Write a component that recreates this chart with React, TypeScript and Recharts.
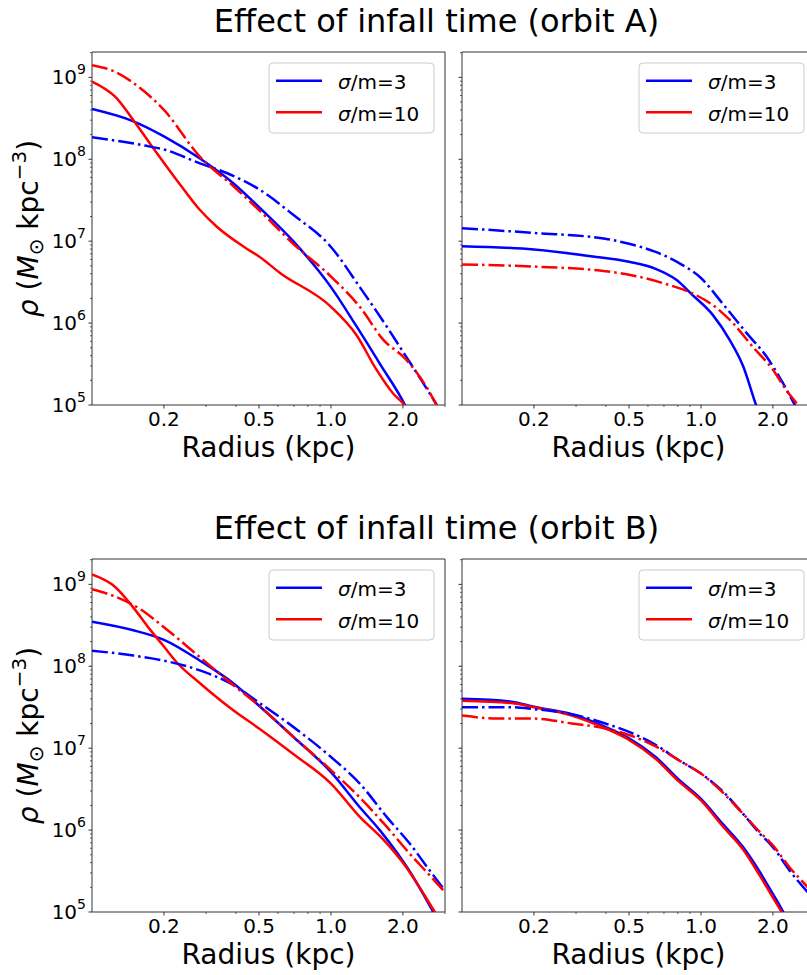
import { Line, LineChart, ReferenceArea, XAxis, YAxis } from "recharts";

type Pair = [number, number];

// radius (kpc), density (M_sun kpc^-3)
// orbit A, left panel
const A_L_SOLID_3: Pair[] = [[0.1, 4.1e8], [0.149, 2.9e8], [0.2, 1.9e8], [0.283, 1.02e8], [0.39, 5.1e7], [0.5, 2.6e7], [0.695, 1.0e7], [1.0, 2.75e6], [1.28, 9.1e5], [1.6, 3.2e5], [2.04, 1.0e5], [2.2, 6.3e4]];
const A_L_DASH_3: Pair[] = [[0.1, 1.86e8], [0.164, 1.48e8], [0.205, 1.29e8], [0.283, 8.9e7], [0.366, 6.8e7], [0.5, 4.3e7], [0.695, 2.1e7], [1.0, 8.5e6], [1.32, 2.75e6], [1.71, 9.1e5], [2.04, 4.1e5], [2.59, 1.38e5], [2.77, 1.0e5], [3.0, 6.3e4]];
const A_L_SOLID_10: Pair[] = [[0.1, 8.9e8], [0.125, 5.8e8], [0.149, 3.0e8], [0.175, 1.55e8], [0.226, 5.6e7], [0.283, 2.4e7], [0.333, 1.5e7], [0.444, 8.1e6], [0.5, 6.5e6], [0.612, 4.1e6], [1.0, 1.58e6], [1.28, 7.1e5], [1.55, 2.7e5], [1.82, 1.38e5], [2.0, 1.05e5], [2.2, 7e4]];
const A_L_DASH_10: Pair[] = [[0.1, 1.41e9], [0.125, 1.17e9], [0.159, 7.4e8], [0.2, 4.0e8], [0.283, 1.07e8], [0.39, 4.7e7], [0.5, 2.4e7], [0.695, 9.3e6], [1.0, 3.7e6], [1.32, 1.58e6], [1.66, 6.2e5], [2.04, 3.7e5], [2.51, 1.66e5], [2.77, 1.0e5], [3.0, 7e4]];

// orbit A, right panel
const A_R_SOLID_3: Pair[] = [[0.1, 8.7e6], [0.2, 7.9e6], [0.339, 6.6e6], [0.5, 5.6e6], [0.646, 4.6e6], [0.786, 3.4e6], [0.922, 2.2e6], [1.12, 1.26e6], [1.32, 6.2e5], [1.5, 3.0e5], [1.7, 1.0e5], [1.8, 6.3e4]];
const A_R_DASH_3: Pair[] = [[0.1, 1.44e7], [0.2, 1.26e7], [0.398, 1.07e7], [0.5, 9.3e6], [0.646, 7.4e6], [0.81, 5.4e6], [1.0, 3.55e6], [1.23, 1.74e6], [1.55, 7.6e5], [1.88, 3.9e5], [2.21, 1.82e5], [2.47, 1.0e5], [2.8, 5e4]];
const A_R_DASH_10: Pair[] = [[0.1, 5.2e6], [0.2, 4.9e6], [0.398, 4.3e6], [0.5, 3.9e6], [0.713, 3.0e6], [0.922, 2.3e6], [1.12, 1.66e6], [1.36, 1.0e6], [1.65, 5.1e5], [2.0, 2.7e5], [2.28, 1.5e5], [2.51, 1.05e5], [2.8, 6.3e4]];

// orbit B, left panel
const B_L_SOLID_3: Pair[] = [[0.1, 3.5e8], [0.149, 2.75e8], [0.2, 2.1e8], [0.283, 1.17e8], [0.39, 6.2e7], [0.5, 3.3e7], [0.695, 1.38e7], [1.0, 5.1e6], [1.32, 1.9e6], [1.6, 1.0e6], [1.88, 5.4e5], [2.14, 3.1e5], [2.43, 1.66e5], [2.68, 1.0e5], [2.9, 7e4]];
const B_L_DASH_3: Pair[] = [[0.1, 1.55e8], [0.149, 1.35e8], [0.2, 1.17e8], [0.283, 8.9e7], [0.39, 5.9e7], [0.5, 3.6e7], [0.695, 1.82e7], [1.0, 7.8e6], [1.32, 3.7e6], [1.71, 1.45e6], [2.14, 6.8e5], [2.59, 3.2e5], [3.0, 1.82e5]];
const B_L_SOLID_10: Pair[] = [[0.1, 1.32e9], [0.125, 9.3e8], [0.149, 5.2e8], [0.175, 2.8e8], [0.2, 1.74e8], [0.226, 1.12e8], [0.283, 6.2e7], [0.39, 2.9e7], [0.5, 1.74e7], [0.695, 8.5e6], [1.0, 3.7e6], [1.32, 1.45e6], [1.66, 7.6e5], [2.04, 3.7e5], [2.35, 2.0e5], [2.72, 1.0e5], [2.9, 7.6e4]];
const B_L_DASH_10: Pair[] = [[0.1, 8.7e8], [0.125, 7.1e8], [0.159, 5.0e8], [0.2, 3.0e8], [0.283, 1.29e8], [0.39, 5.9e7], [0.5, 3.3e7], [0.695, 1.38e7], [1.0, 5.4e6], [1.32, 2.5e6], [1.71, 1.1e6], [2.14, 5.1e5], [2.59, 2.8e5], [3.0, 1.74e5]];

// orbit B, right panel
const B_R_SOLID_3: Pair[] = [[0.1, 4.0e7], [0.161, 3.7e7], [0.2, 3.2e7], [0.288, 2.6e7], [0.398, 1.82e7], [0.5, 1.32e7], [0.646, 7.8e6], [0.81, 4.1e6], [1.0, 2.4e6], [1.23, 1.2e6], [1.5, 6.2e5], [1.76, 3.1e5], [2.0, 1.66e5], [2.21, 1.0e5], [2.4, 6.3e4]];
const B_R_SOLID_10: Pair[] = [[0.1, 3.8e7], [0.161, 3.55e7], [0.2, 3.16e7], [0.288, 2.5e7], [0.398, 1.74e7], [0.5, 1.26e7], [0.646, 7.4e6], [0.81, 3.9e6], [1.0, 2.3e6], [1.23, 1.12e6], [1.5, 5.8e5], [1.76, 2.8e5], [2.0, 1.5e5], [2.2, 9.5e4], [2.4, 6.3e4]];
const B_R_DASH_3: Pair[] = [[0.1, 3.16e7], [0.161, 3.16e7], [0.2, 3.0e7], [0.288, 2.6e7], [0.398, 2.0e7], [0.5, 1.58e7], [0.646, 1.1e7], [0.81, 7.1e6], [1.0, 4.9e6], [1.23, 3.0e6], [1.5, 1.58e6], [1.76, 9.1e5], [2.0, 6.2e5], [2.35, 3.2e5], [2.8, 1.74e5], [3.0, 1.4e5]];
const B_R_DASH_10: Pair[] = [[0.1, 2.5e7], [0.142, 2.3e7], [0.2, 2.3e7], [0.288, 2.0e7], [0.398, 1.74e7], [0.5, 1.45e7], [0.646, 1.05e7], [0.81, 7.1e6], [1.0, 4.9e6], [1.23, 2.9e6], [1.5, 1.58e6], [1.76, 9.5e5], [2.0, 6.5e5], [2.35, 3.5e5], [2.8, 2.0e5], [3.0, 1.6e5]];

const TITLES = ["Effect of infall time (orbit A)", "Effect of infall time (orbit B)"];
const LEGEND_LABELS = ["3", "10"];

const X_MAJOR = [0.2, 0.5, 1.0, 2.0];
const X_MAJOR_LABELS = ["0.2", "0.5", "1.0", "2.0"];
const X_MINOR = [0.3, 0.4, 0.6, 0.7, 0.8, 0.9, 3.0];
const Y_DECADES = [1e5, 1e6, 1e7, 1e8, 1e9];
const Y_MINOR_MULT = [2, 3, 4, 5, 6, 7, 8, 9];

const X_DOMAIN = [0.1, 3.0];
const Y_DOMAIN = [1e5, 2.04e9];

const BLUE = "#0000ff";
const RED = "#ff0000";
const DASHDOT = "16 4 2.5 4";
const FONT = "DejaVu Sans";
const SPINE = "#333";

const xTicks = [...X_MAJOR, ...X_MINOR].sort((a, b) => a - b);
const yTicks = Y_DECADES.flatMap((d) => [d, ...Y_MINOR_MULT.map((m) => m * d)]).filter(
  (v) => v <= Y_DOMAIN[1]
);

const toPts = (arr: Pair[]) => arr.map(([r, rho]) => ({ r, rho }));

type Series = { data: Pair[]; color: string; dashed: boolean };

// plot box geometry (px)
const PLOT = 353;
const COLS = [92, 462];
const ROWS = [52, 559];
const AXIS_W = 92;
const AXIS_H = 65;

function XTick(props: any) {
  const { x, y, payload } = props;
  const i = X_MAJOR.indexOf(payload.value);
  const major = i >= 0;
  return (
    <g>
      <line x1={x} x2={x} y1={y} y2={y + (major ? 3.5 : 2)} stroke={SPINE} strokeWidth={major ? 1 : 0.8} />
      {major && (
        <text x={x} y={y + 20.5} textAnchor="middle" fontSize={20} fontFamily={FONT} fill="#000">
          {X_MAJOR_LABELS[i]}
        </text>
      )}
    </g>
  );
}

function YTick(props: any) {
  const { x, y, payload, showLabels } = props;
  const v = payload.value;
  const major = Y_DECADES.includes(v);
  const exp = Math.round(Math.log10(v));
  return (
    <g>
      <line x1={x - (major ? 3.5 : 2)} x2={x} y1={y} y2={y} stroke={SPINE} strokeWidth={major ? 1 : 0.8} />
      {major && showLabels && (
        <text x={x - 6} y={y + 7} textAnchor="end" fontSize={20} fontFamily={FONT} fill="#000">
          <tspan>10</tspan>
          <tspan fontSize={14} dy={-10}>
            {exp}
          </tspan>
        </text>
      )}
    </g>
  );
}

function Panel({ col, row, series }: { col: number; row: number; series: Series[] }) {
  const left = COLS[col] - AXIS_W;
  const top = ROWS[row] - 52;
  const showLabels = col === 0;
  return (
    <div style={{ position: "absolute", left, top }}>
      <LineChart
        width={AXIS_W + PLOT + 15}
        height={52 + PLOT + AXIS_H}
        margin={{ top: 52, right: 15, bottom: 0, left: 0 }}
      >
        <XAxis
          dataKey="r"
          type="number"
          scale="log"
          domain={X_DOMAIN}
          allowDataOverflow
          ticks={xTicks}
          interval={0}
          tickSize={0}
          tickMargin={0}
          axisLine={false}
          tickLine={false}
          height={AXIS_H}
          tick={(p: any) => <XTick {...p} />}
        />
        <YAxis
          type="number"
          scale="log"
          domain={Y_DOMAIN}
          allowDataOverflow
          ticks={yTicks}
          interval={0}
          tickSize={0}
          tickMargin={0}
          axisLine={false}
          tickLine={false}
          width={AXIS_W}
          tick={(p: any) => <YTick {...p} showLabels={showLabels} />}
        />
        {series.map((s, i) => (
          <Line
            key={i}
            data={toPts(s.data)}
            dataKey="rho"
            type="monotone"
            stroke={s.color}
            strokeWidth={2.5}
            strokeDasharray={s.dashed ? DASHDOT : undefined}
            dot={false}
            activeDot={false}
            isAnimationActive={false}
          />
        ))}
        <ReferenceArea
          x1={X_DOMAIN[0]}
          x2={X_DOMAIN[1]}
          y1={Y_DOMAIN[0]}
          y2={Y_DOMAIN[1]}
          fill="none"
          fillOpacity={0}
          stroke={SPINE}
          strokeWidth={1}
          ifOverflow="visible"
        />
      </LineChart>
    </div>
  );
}

function Legend({ right, top }: { right: number; top: number }) {
  const colors = [BLUE, RED];
  return (
    <g>
      <rect x={right - 176} y={top + 11} width={165} height={70} rx={4} fill="#fff" fillOpacity={0.8} stroke="#cccccc" strokeWidth={1} />
      {LEGEND_LABELS.map((lab, i) => (
        <g key={lab}>
          <line x1={right - 169} x2={right - 123} y1={top + 28.7 + i * 31.6} y2={top + 28.7 + i * 31.6} stroke={colors[i]} strokeWidth={2.5} />
          <text x={right - 107} y={top + 37.3 + i * 31.4} fontSize={20} fontFamily={FONT} fill="#000">
            <tspan fontStyle="italic">σ</tspan>
            <tspan>{"/m=" + lab}</tspan>
          </text>
        </g>
      ))}
    </g>
  );
}

function YLabel({ cy }: { cy: number }) {
  return (
    <text transform={`translate(38, ${cy}) rotate(-90)`} textAnchor="middle" fontSize={28} fontFamily={FONT} fill="#000">
      <tspan fontStyle="italic">ρ</tspan>
      <tspan>{" ("}</tspan>
      <tspan fontStyle="italic">M</tspan>
      <tspan fontSize={20} dy={5}>⊙</tspan>
      <tspan dy={-5}>{" kpc"}</tspan>
      <tspan fontSize={20} dy={-12}>−3</tspan>
      <tspan dy={12}>)</tspan>
    </text>
  );
}

export default function App() {
  const panels: { col: number; row: number; series: Series[] }[] = [
    {
      col: 0,
      row: 0,
      series: [
        { data: A_L_SOLID_3, color: BLUE, dashed: false },
        { data: A_L_SOLID_10, color: RED, dashed: false },
        { data: A_L_DASH_3, color: BLUE, dashed: true },
        { data: A_L_DASH_10, color: RED, dashed: true },
      ],
    },
    {
      col: 1,
      row: 0,
      series: [
        { data: A_R_SOLID_3, color: BLUE, dashed: false },
        { data: A_R_DASH_3, color: BLUE, dashed: true },
        { data: A_R_DASH_10, color: RED, dashed: true },
      ],
    },
    {
      col: 0,
      row: 1,
      series: [
        { data: B_L_SOLID_3, color: BLUE, dashed: false },
        { data: B_L_SOLID_10, color: RED, dashed: false },
        { data: B_L_DASH_3, color: BLUE, dashed: true },
        { data: B_L_DASH_10, color: RED, dashed: true },
      ],
    },
    {
      col: 1,
      row: 1,
      series: [
        { data: B_R_SOLID_3, color: BLUE, dashed: false },
        { data: B_R_SOLID_10, color: RED, dashed: false },
        { data: B_R_DASH_3, color: BLUE, dashed: true },
        { data: B_R_DASH_10, color: RED, dashed: true },
      ],
    },
  ];

  return (
    <div
      style={{
        position: "absolute",
        left: 0,
        top: 0,
        width: 807,
        height: 975,
        overflow: "hidden",
        background: "#fff",
        fontFamily: FONT,
      }}
    >
      {panels.map((p, i) => (
        <Panel key={i} col={p.col} row={p.row} series={p.series} />
      ))}
      <svg width={807} height={975} style={{ position: "absolute", left: 0, top: 0, pointerEvents: "none" }}>
        {ROWS.map((top, r) => (
          <g key={r}>
            <text x={436.5} y={top - 20.3} textAnchor="middle" fontSize={32} fontFamily={FONT} fill="#000">
              {TITLES[r]}
            </text>
            <YLabel cy={top + PLOT / 2} />
            {COLS.map((left, c) => (
              <g key={c}>
                <text x={left + PLOT / 2} y={top + PLOT + 52} textAnchor="middle" fontSize={28} fontFamily={FONT} fill="#000">
                  Radius (kpc)
                </text>
                <Legend right={left + PLOT} top={top} />
              </g>
            ))}
          </g>
        ))}
      </svg>
    </div>
  );
}
